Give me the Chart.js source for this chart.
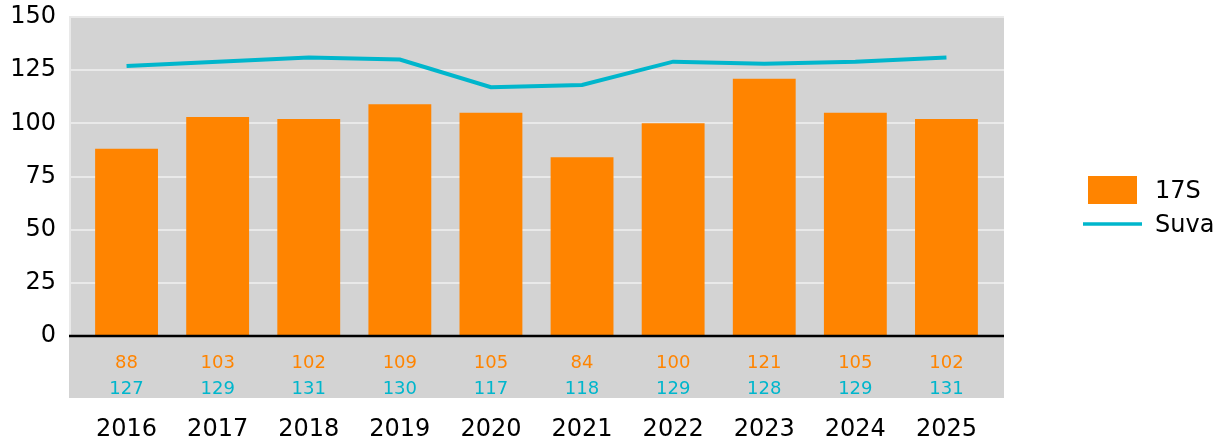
<!DOCTYPE html>
<html>
<head>
<meta charset="utf-8">
<script src="https://cdn.jsdelivr.net/npm/chart.js@4"></script>
<style>
  body { margin: 0; background: #fff; }
  canvas { display: block; }
</style>
</head>
<body>
<canvas id="chart" width="1220" height="443"></canvas>
<script>
// Chart data
const years = ["2016", "2017", "2018", "2019", "2020", "2021", "2022", "2023", "2024", "2025"];
const values17S = [88, 103, 102, 109, 105, 84, 100, 121, 105, 102];
const valuesSuva = [127, 129, 131, 130, 117, 118, 129, 128, 129, 131];
const yTicks = [0, 25, 50, 75, 100, 125, 150];

const ORANGE = "#ff8400";
const CYAN = "#00b6cc";
const FONT = "'DejaVu Sans', Verdana, sans-serif";
const SIDE = 12; // grey panel sticks out past the category band

// Grey panel, gridlines, zero line, data table and legend
const panelPlugin = {
  id: "panel",
  beforeDatasetsDraw(chart) {
    const { ctx, chartArea, scales } = chart;
    const left = chartArea.left - SIDE;
    const right = chartArea.right + SIDE;
    ctx.save();
    ctx.fillStyle = "#d3d3d3";
    ctx.fillRect(left, chartArea.top, right - left, 398 - chartArea.top);
    ctx.strokeStyle = "#e9e9e9";
    ctx.lineWidth = 2;
    yTicks.forEach((t) => {
      if (t === 0) return;
      const y = Math.round(scales.y.getPixelForValue(t));
      ctx.beginPath();
      ctx.moveTo(left, y);
      ctx.lineTo(right, y);
      ctx.stroke();
    });
    ctx.beginPath();
    ctx.moveTo(left + 1, chartArea.top);
    ctx.lineTo(left + 1, chartArea.bottom);
    ctx.stroke();
    ctx.restore();
  },
  afterDatasetsDraw(chart) {
    const { ctx, chartArea, scales } = chart;
    const left = chartArea.left - SIDE;
    const right = chartArea.right + SIDE;
    ctx.save();
    // zero line
    const y0 = scales.y.getPixelForValue(0);
    ctx.strokeStyle = "#000";
    ctx.lineWidth = 2.5;
    ctx.beginPath();
    ctx.moveTo(left, y0);
    ctx.lineTo(right, y0);
    ctx.stroke();

    // data table under the axis
    ctx.font = "18px " + FONT;
    ctx.textAlign = "center";
    ctx.textBaseline = "middle";
    years.forEach((yr, i) => {
      const x = scales.x.getPixelForValue(i);
      ctx.fillStyle = ORANGE;
      ctx.fillText(String(values17S[i]), x, 363);
      ctx.fillStyle = CYAN;
      ctx.fillText(String(valuesSuva[i]), x, 389);
    });

    // legend
    ctx.fillStyle = ORANGE;
    ctx.fillRect(1088, 176, 49, 28);
    ctx.strokeStyle = CYAN;
    ctx.lineWidth = 3.5;
    ctx.beginPath();
    ctx.moveTo(1083, 224);
    ctx.lineTo(1142, 224);
    ctx.stroke();
    ctx.fillStyle = "#000";
    ctx.font = "24px " + FONT;
    ctx.textAlign = "left";
    ctx.fillText(chart.data.datasets[1].label, 1155, 192);
    ctx.fillText(chart.data.datasets[0].label, 1155, 226);
    ctx.restore();
  },
};

const ctx = document.getElementById("chart").getContext("2d");
new Chart(ctx, {
  data: {
    labels: years,
    datasets: [
      {
        type: "line",
        label: "Suva",
        data: valuesSuva,
        borderColor: CYAN,
        borderWidth: 4,
        pointRadius: 0,
        tension: 0,
        order: 0,
      },
      {
        type: "bar",
        label: "17S",
        data: values17S,
        backgroundColor: ORANGE,
        barPercentage: 0.69,
        categoryPercentage: 1,
        order: 1,
      },
    ],
  },
  options: {
    responsive: false,
    animation: false,
    layout: { padding: { top: 17, right: 228, bottom: 0, left: 0 } },
    plugins: {
      legend: { display: false },
      tooltip: { enabled: false },
    },
    scales: {
      x: {
        grid: { display: false, drawTicks: false },
        border: { display: false },
        ticks: {
          color: "#000",
          padding: 79,
          font: { family: FONT, size: 24 },
          maxRotation: 0,
        },
        afterFit(scale) {
          scale.height = 107;
          scale.paddingLeft = 0;
          scale.paddingRight = 0;
        },
      },
      y: {
        min: 0,
        max: 150,
        grid: { display: false, drawTicks: false },
        border: { display: false },
        afterBuildTicks(scale) {
          scale.ticks = yTicks.map((v) => ({ value: v }));
        },
        ticks: {
          color: "#000",
          padding: 25,
          font: { family: FONT, size: 24 },
        },
        afterFit(scale) {
          scale.width = 81;
          scale.paddingTop = 0;
          scale.paddingBottom = 0;
        },
      },
    },
  },
  plugins: [panelPlugin],
});
</script>
</body>
</html>
